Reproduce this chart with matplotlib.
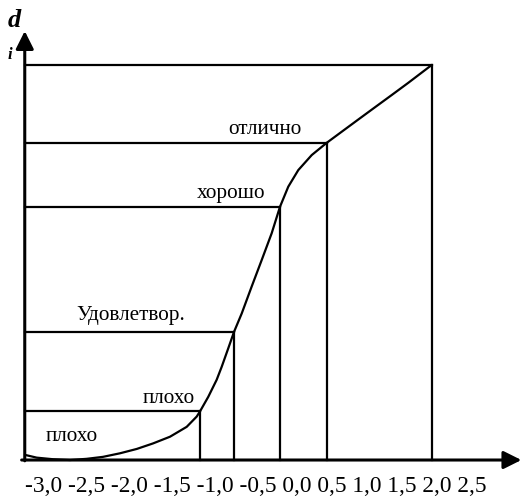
import matplotlib.pyplot as plt

plt.rcParams['font.family'] = ['Liberation Serif', 'DejaVu Serif']

# grade curve d_i(x)
curve_x = [-3.397, -3.246, -3.036, -2.817, -2.602, -2.392, -2.173, -1.957, -1.747,
           -1.528, -1.313, -1.184, -1.142, -1.035, -0.927, -0.862, -0.777, -0.704,
           -0.604, -0.476, -0.347, -0.218, -0.111, -0.004, 0.125, 0.298, 0.491,
           0.684, 0.898, 1.113, 1.329, 1.543, 1.844]
curve_y = [0.013, 0.006, 0.002, 0.0, 0.003, 0.008, 0.017, 0.028, 0.042,
           0.059, 0.084, 0.110, 0.123, 0.160, 0.203, 0.236, 0.283, 0.324,
           0.371, 0.439, 0.506, 0.574, 0.641, 0.692, 0.734, 0.772, 0.803,
           0.831, 0.862, 0.893, 0.924, 0.955, 1.0]

# boundaries between grades (points on the curve)
bound_x = [-1.142, -0.704, -0.111, 0.491, 1.844]
bound_y = [0.123, 0.324, 0.641, 0.803, 1.0]

grade_names = ['плохо', 'плохо', 'Удовлетвор.', 'хорошо', 'отлично']
tick_text = '-3,0 -2,5 -2,0 -1,5 -1,0 -0,5 0,0 0,5 1,0 1,5 2,0 2,5'

x0 = -3.40  # where the vertical axis stands

fig = plt.figure(figsize=(5.22, 4.96), dpi=100)
ax = fig.add_axes([0, 0, 1, 1])
ax.set_xlim(-3.719, 3.008)
ax.set_ylim(-0.0911, 1.1646)
ax.axis('off')

lw = 1.6
ax.plot(curve_x, curve_y, color='black', lw=lw, solid_capstyle='round',
        solid_joinstyle='round')
for bx, by in zip(bound_x, bound_y):
    ax.plot([x0, bx], [by, by], color='black', lw=lw)
    ax.plot([bx, bx], [by, 0], color='black', lw=lw)

# axes with arrows
arrow = dict(arrowstyle='-|>,head_length=0.9,head_width=0.45', lw=2.2,
             color='black', shrinkA=0, shrinkB=0, mutation_scale=12)
ax.annotate('', xy=(3.0, 0), xytext=(-3.44, 0), arrowprops=arrow)
ax.annotate('', xy=(x0, 1.086), xytext=(x0, -0.002), arrowprops=arrow)

# grade labels
fs = 15.3
ax.text(-2.79, 0.060, grade_names[0], fontsize=fs, ha='center', va='center')
ax.text(-1.54, 0.155, grade_names[1], fontsize=fs, ha='center', va='center')
ax.text(-2.03, 0.365, grade_names[2], fontsize=fs, ha='center', va='center')
ax.text(-0.743, 0.674, grade_names[3], fontsize=fs, ha='center', va='center')
ax.text(-0.304, 0.838, grade_names[4], fontsize=fs, ha='center', va='center')

ax.text(-3.53, 1.112, 'd', fontsize=19, fontweight='bold', fontstyle='italic',
        ha='center', va='center')
ax.text(-3.59, 1.025, 'i', fontsize=12, fontweight='bold', fontstyle='italic',
        ha='center', va='center')

ax.text(-3.40, -0.066, tick_text, fontsize=16.8, ha='left', va='center')

fig.savefig('out.png', dpi=100)
